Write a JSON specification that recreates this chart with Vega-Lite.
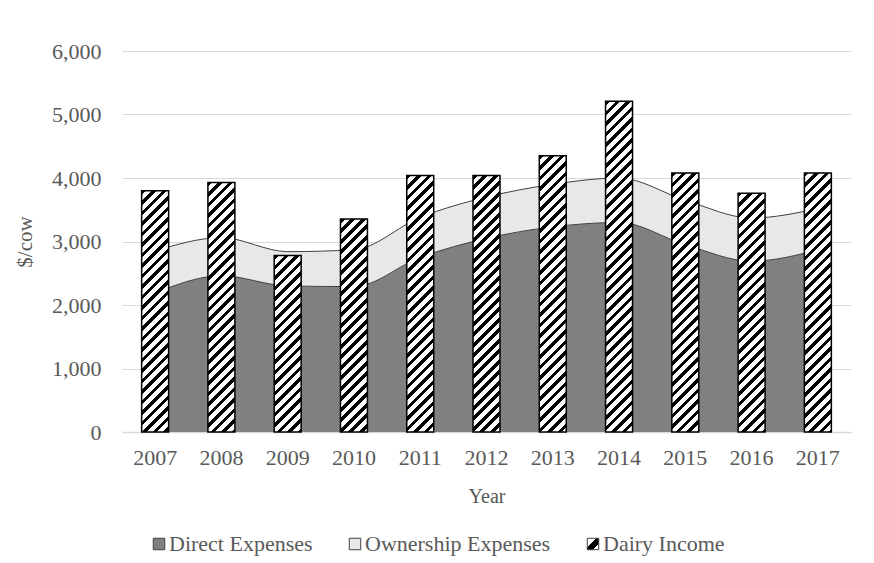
{
"$schema": "https://vega.github.io/schema/vega-lite/v6.json",
"width": 729,
"height": 381,
"autosize": {"type": "none"},
"padding": {"left": 122, "top": 51, "right": 23, "bottom": 131},
"background": "white",
"params": [{"name": "hatch", "value": [
{"offset":0,"color":"#000"},{"offset":0.011,"color":"#000"},{"offset":0.011,"color":"#fff"},{"offset":0.025,"color":"#fff"},
{"offset":0.025,"color":"#000"},{"offset":0.036,"color":"#000"},{"offset":0.036,"color":"#fff"},{"offset":0.05,"color":"#fff"},
{"offset":0.05,"color":"#000"},{"offset":0.061,"color":"#000"},{"offset":0.061,"color":"#fff"},{"offset":0.075,"color":"#fff"},
{"offset":0.075,"color":"#000"},{"offset":0.086,"color":"#000"},{"offset":0.086,"color":"#fff"},{"offset":0.1,"color":"#fff"},
{"offset":0.1,"color":"#000"},{"offset":0.111,"color":"#000"},{"offset":0.111,"color":"#fff"},{"offset":0.125,"color":"#fff"},
{"offset":0.125,"color":"#000"},{"offset":0.136,"color":"#000"},{"offset":0.136,"color":"#fff"},{"offset":0.15,"color":"#fff"},
{"offset":0.15,"color":"#000"},{"offset":0.161,"color":"#000"},{"offset":0.161,"color":"#fff"},{"offset":0.175,"color":"#fff"},
{"offset":0.175,"color":"#000"},{"offset":0.186,"color":"#000"},{"offset":0.186,"color":"#fff"},{"offset":0.2,"color":"#fff"},
{"offset":0.2,"color":"#000"},{"offset":0.211,"color":"#000"},{"offset":0.211,"color":"#fff"},{"offset":0.225,"color":"#fff"},
{"offset":0.225,"color":"#000"},{"offset":0.236,"color":"#000"},{"offset":0.236,"color":"#fff"},{"offset":0.25,"color":"#fff"},
{"offset":0.25,"color":"#000"},{"offset":0.261,"color":"#000"},{"offset":0.261,"color":"#fff"},{"offset":0.275,"color":"#fff"},
{"offset":0.275,"color":"#000"},{"offset":0.286,"color":"#000"},{"offset":0.286,"color":"#fff"},{"offset":0.3,"color":"#fff"},
{"offset":0.3,"color":"#000"},{"offset":0.311,"color":"#000"},{"offset":0.311,"color":"#fff"},{"offset":0.325,"color":"#fff"},
{"offset":0.325,"color":"#000"},{"offset":0.336,"color":"#000"},{"offset":0.336,"color":"#fff"},{"offset":0.35,"color":"#fff"},
{"offset":0.35,"color":"#000"},{"offset":0.361,"color":"#000"},{"offset":0.361,"color":"#fff"},{"offset":0.375,"color":"#fff"},
{"offset":0.375,"color":"#000"},{"offset":0.386,"color":"#000"},{"offset":0.386,"color":"#fff"},{"offset":0.4,"color":"#fff"},
{"offset":0.4,"color":"#000"},{"offset":0.411,"color":"#000"},{"offset":0.411,"color":"#fff"},{"offset":0.425,"color":"#fff"},
{"offset":0.425,"color":"#000"},{"offset":0.436,"color":"#000"},{"offset":0.436,"color":"#fff"},{"offset":0.45,"color":"#fff"},
{"offset":0.45,"color":"#000"},{"offset":0.461,"color":"#000"},{"offset":0.461,"color":"#fff"},{"offset":0.475,"color":"#fff"},
{"offset":0.475,"color":"#000"},{"offset":0.486,"color":"#000"},{"offset":0.486,"color":"#fff"},{"offset":0.5,"color":"#fff"},
{"offset":0.5,"color":"#000"},{"offset":0.511,"color":"#000"},{"offset":0.511,"color":"#fff"},{"offset":0.525,"color":"#fff"},
{"offset":0.525,"color":"#000"},{"offset":0.536,"color":"#000"},{"offset":0.536,"color":"#fff"},{"offset":0.55,"color":"#fff"},
{"offset":0.55,"color":"#000"},{"offset":0.561,"color":"#000"},{"offset":0.561,"color":"#fff"},{"offset":0.575,"color":"#fff"},
{"offset":0.575,"color":"#000"},{"offset":0.586,"color":"#000"},{"offset":0.586,"color":"#fff"},{"offset":0.6,"color":"#fff"},
{"offset":0.6,"color":"#000"},{"offset":0.611,"color":"#000"},{"offset":0.611,"color":"#fff"},{"offset":0.625,"color":"#fff"},
{"offset":0.625,"color":"#000"},{"offset":0.636,"color":"#000"},{"offset":0.636,"color":"#fff"},{"offset":0.65,"color":"#fff"},
{"offset":0.65,"color":"#000"},{"offset":0.661,"color":"#000"},{"offset":0.661,"color":"#fff"},{"offset":0.675,"color":"#fff"},
{"offset":0.675,"color":"#000"},{"offset":0.686,"color":"#000"},{"offset":0.686,"color":"#fff"},{"offset":0.7,"color":"#fff"},
{"offset":0.7,"color":"#000"},{"offset":0.711,"color":"#000"},{"offset":0.711,"color":"#fff"},{"offset":0.725,"color":"#fff"},
{"offset":0.725,"color":"#000"},{"offset":0.736,"color":"#000"},{"offset":0.736,"color":"#fff"},{"offset":0.75,"color":"#fff"},
{"offset":0.75,"color":"#000"},{"offset":0.761,"color":"#000"},{"offset":0.761,"color":"#fff"},{"offset":0.775,"color":"#fff"},
{"offset":0.775,"color":"#000"},{"offset":0.786,"color":"#000"},{"offset":0.786,"color":"#fff"},{"offset":0.8,"color":"#fff"},
{"offset":0.8,"color":"#000"},{"offset":0.811,"color":"#000"},{"offset":0.811,"color":"#fff"},{"offset":0.825,"color":"#fff"},
{"offset":0.825,"color":"#000"},{"offset":0.836,"color":"#000"},{"offset":0.836,"color":"#fff"},{"offset":0.85,"color":"#fff"},
{"offset":0.85,"color":"#000"},{"offset":0.861,"color":"#000"},{"offset":0.861,"color":"#fff"},{"offset":0.875,"color":"#fff"},
{"offset":0.875,"color":"#000"},{"offset":0.886,"color":"#000"},{"offset":0.886,"color":"#fff"},{"offset":0.9,"color":"#fff"},
{"offset":0.9,"color":"#000"},{"offset":0.911,"color":"#000"},{"offset":0.911,"color":"#fff"},{"offset":1,"color":"#fff"}
]}],
"data": {"values": [
{"Year": 2007, "Series": "Direct Expenses", "Value": 2190},
{"Year": 2008, "Series": "Direct Expenses", "Value": 2460},
{"Year": 2009, "Series": "Direct Expenses", "Value": 2300},
{"Year": 2010, "Series": "Direct Expenses", "Value": 2290},
{"Year": 2011, "Series": "Direct Expenses", "Value": 2750},
{"Year": 2012, "Series": "Direct Expenses", "Value": 3050},
{"Year": 2013, "Series": "Direct Expenses", "Value": 3230},
{"Year": 2014, "Series": "Direct Expenses", "Value": 3300},
{"Year": 2015, "Series": "Direct Expenses", "Value": 2950},
{"Year": 2016, "Series": "Direct Expenses", "Value": 2690},
{"Year": 2017, "Series": "Direct Expenses", "Value": 2870},
{"Year": 2007, "Series": "Ownership Expenses", "Value": 660},
{"Year": 2008, "Series": "Ownership Expenses", "Value": 600},
{"Year": 2009, "Series": "Ownership Expenses", "Value": 540},
{"Year": 2010, "Series": "Ownership Expenses", "Value": 580},
{"Year": 2011, "Series": "Ownership Expenses", "Value": 630},
{"Year": 2012, "Series": "Ownership Expenses", "Value": 650},
{"Year": 2013, "Series": "Ownership Expenses", "Value": 670},
{"Year": 2014, "Series": "Ownership Expenses", "Value": 700},
{"Year": 2015, "Series": "Ownership Expenses", "Value": 700},
{"Year": 2016, "Series": "Ownership Expenses", "Value": 680},
{"Year": 2017, "Series": "Ownership Expenses", "Value": 650},
{"Year": 2007, "Series": "Dairy Income", "Value": 3800},
{"Year": 2008, "Series": "Dairy Income", "Value": 3930},
{"Year": 2009, "Series": "Dairy Income", "Value": 2780},
{"Year": 2010, "Series": "Dairy Income", "Value": 3355},
{"Year": 2011, "Series": "Dairy Income", "Value": 4040},
{"Year": 2012, "Series": "Dairy Income", "Value": 4040},
{"Year": 2013, "Series": "Dairy Income", "Value": 4350},
{"Year": 2014, "Series": "Dairy Income", "Value": 5210},
{"Year": 2015, "Series": "Dairy Income", "Value": 4080},
{"Year": 2016, "Series": "Dairy Income", "Value": 3760},
{"Year": 2017, "Series": "Dairy Income", "Value": 4080}
]},
"layer": [
{
"transform": [
{"filter": "datum.Series !== 'Dairy Income'"},
{"stack": "Value", "groupby": ["Year"], "sort": [{"field": "Series", "order": "ascending"}], "as": ["v0", "v1"]}
],
"mark": {"type": "area", "interpolate": "monotone"},
"encoding": {
"x": {"field": "Year", "type": "ordinal", "bandPosition": 0.5, "title": "Year", "scale": {"type": "band", "paddingInner": 0.593, "paddingOuter": 0.2965}},
"y": {"field": "v1", "type": "quantitative", "title": "$/cow", "scale": {"domain": [0, 6000], "nice": false}, "axis": {"values": [0, 1000, 2000, 3000, 4000, 5000, 6000], "format": ",d"}},
"y2": {"field": "v0"},
"color": {"field": "Series", "type": "nominal",
"scale": {"domain": ["Direct Expenses", "Ownership Expenses", "Dairy Income"], "range": ["#808080", "#e8e8e8", {"expr": "{gradient: 'linear', x1: 0, y1: 0, x2: 1, y2: 1, stops: [{offset: 0, color: '#fff'}, {offset: 0.4, color: '#fff'}, {offset: 0.4, color: '#000'}, {offset: 0.72, color: '#000'}, {offset: 0.72, color: '#fff'}, {offset: 1, color: '#fff'}]}"}]},
"legend": {"orient": "none", "legendX": 26, "legendY": 482, "direction": "horizontal", "title": null,
"symbolType": "square", "symbolSize": 132, "symbolStrokeWidth": 1, "symbolStrokeColor": "#404040",
"labelFont": "Liberation Serif", "labelFontSize": 22, "labelColor": "#595959", "labelOffset": -1, "columnPadding": 31, "labelLimit": 400}
}
}
},
{
"transform": [
{"filter": "datum.Series !== 'Dairy Income'"},
{"stack": "Value", "groupby": ["Year"], "sort": [{"field": "Series", "order": "ascending"}], "as": ["v0", "v1"]}
],
"mark": {"type": "line", "interpolate": "monotone", "color": "#404040", "strokeWidth": 1},
"encoding": {
"x": {"field": "Year", "type": "ordinal", "bandPosition": 0.5, "title": "Year"},
"y": {"field": "v1", "type": "quantitative", "title": "$/cow"},
"detail": {"field": "Series", "type": "nominal"}
}
},
{
"transform": [{"filter": "datum.Series === 'Dairy Income'"}],
"mark": {"type": "bar", "stroke": "#000000", "strokeWidth": 1.5,
"fill": {"expr": "{gradient: 'linear', x1: 0, y1: 0, x2: 420 * bandwidth('x') / (pow(bandwidth('x'), 2) + pow(scale('y', 0) - scale('y', datum.Value), 2)), y2: 420 * (scale('y', 0) - scale('y', datum.Value)) / (pow(bandwidth('x'), 2) + pow(scale('y', 0) - scale('y', datum.Value), 2)), stops: hatch}"}},
"encoding": {
"x": {"field": "Year", "type": "ordinal", "title": "Year"},
"y": {"field": "Value", "type": "quantitative", "title": "$/cow"}
}
}
],
"config": {
"view": {"stroke": null},
"font": "Liberation Serif",
"axis": {"labelFont": "Liberation Serif", "titleFont": "Liberation Serif", "labelColor": "#595959", "titleColor": "#595959", "titleFontWeight": "normal", "ticks": false, "tickSize": 0, "labelFontSize": 22},
"axisX": {"domain": true, "domainColor": "#d9d9d9", "domainWidth": 1.5, "grid": false, "labelAngle": 0, "labelPadding": 15, "titleFontSize": 20, "titlePadding": 18},
"axisY": {"domain": false, "grid": true, "gridColor": "#d9d9d9", "gridWidth": 1.2, "labelPadding": 21, "titleFontSize": 21, "titlePadding": 16}
}
}
